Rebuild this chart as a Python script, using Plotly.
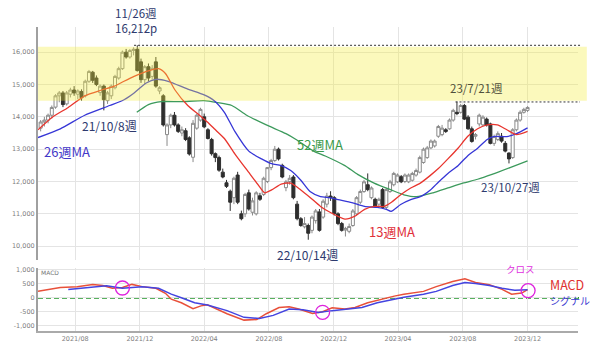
import pandas as pd
import plotly.graph_objects as go

# ---------------- data ----------------
week_dates = pd.date_range("2021-05-28", periods=132, freq="7D")

opens = [13650, 13840, 13900, 14050, 14300, 14650, 14740, 14400, 14700, 14830,
         14700, 14780, 14650, 15100, 15380, 15200, 14750, 14950, 14500, 14650,
         14900, 15200, 15490, 16000, 15850, 16050, 16090, 15700, 15150, 15550,
         15250, 15700, 14800, 14650, 13450, 13750, 14050, 13750, 13500, 13570,
         13350, 12750, 13650, 13900, 14000, 13600, 13300, 12860, 12740, 12290,
         11960, 11700, 11500, 12200, 11000, 11000, 11650, 11050, 11000, 11560,
         11600, 12000, 12430, 12650, 13000, 12500, 11810, 12000, 12140, 11300,
         10850, 10600, 10640, 10490, 10790, 11060, 10900, 11300, 11550, 11500,
         11000, 10700, 10500, 10460, 10640, 11000, 11360, 11690, 11900, 11500,
         11450, 11300, 11750, 11200, 11690, 11900, 11990, 12150, 12000, 11990,
         12040, 12200, 12290, 12590, 12740, 13040, 13100, 13400, 13450, 13600,
         13630, 13900, 14140, 14140, 14350, 13990, 13630, 13400, 13780, 13750,
         13930, 13780, 13180, 13300, 13400, 13180, 12880, 12740, 13600, 13900,
         14140, 14200]
highs = [13900, 14000, 14100, 14350, 14700, 14800, 14800, 14800, 14900, 14950,
         14850, 14850, 15150, 15450, 15420, 15280, 15000, 15000, 14800, 15000,
         15300, 15550, 16050, 16100, 16100, 16150, 16212, 15800, 15600, 15650,
         15600, 15850, 14950, 14700, 13800, 14100, 14150, 13800, 13700, 13650,
         13400, 13900, 14100, 14280, 14100, 13650, 13350, 12900, 12800, 12400,
         12050, 11750, 12150, 12300, 11100, 11650, 11750, 11500, 11700, 11650,
         12150, 12450, 12700, 13100, 13050, 12550, 12050, 12200, 12200, 11400,
         10900, 10900, 10700, 10950, 11150, 11150, 11450, 11650, 11700, 11550,
         11050, 10750, 10600, 10700, 11150, 11550, 11750, 12050, 12250, 11850,
         11500, 11500, 11800, 11800, 12050, 12300, 12250, 12200, 12250, 12250,
         12300, 12400, 12800, 13050, 13100, 13300, 13300, 13750, 13750, 13650,
         13950, 14250, 14470, 14400, 14400, 14050, 13700, 13500, 14100, 14050,
         13980, 13820, 13450, 13550, 13500, 13250, 12900, 13650, 13950, 14200,
         14280, 14330]
lows = [13550, 13700, 13800, 13950, 14250, 14450, 14300, 14350, 14600, 14650,
        14550, 14500, 14600, 15050, 15050, 14950, 14650, 14200, 14400, 14550,
        14850, 15150, 15450, 15800, 15800, 15900, 15400, 15050, 15000, 15100,
        15150, 14900, 14700, 13700, 13100, 13650, 13700, 13500, 13400, 13250,
        12800, 12600, 13600, 13850, 13650, 13300, 12800, 12600, 12300, 12100,
        11800, 11090, 11300, 11300, 10800, 10900, 11100, 10950, 10950, 11400,
        11550, 11950, 12350, 12600, 12650, 12100, 11700, 11900, 11450, 10800,
        10600, 10550, 10200, 10400, 10700, 10450, 10850, 11200, 11400, 10950,
        10650, 10450, 10300, 10400, 10600, 10950, 11300, 11650, 11700, 11450,
        11200, 11200, 11150, 11150, 11650, 11850, 11950, 11950, 11950, 11950,
        12000, 12150, 12250, 12550, 12700, 13000, 13050, 13350, 13400, 13500,
        13600, 13850, 14050, 14100, 13900, 13600, 13200, 13300, 13700, 13700,
        13700, 13150, 13100, 13250, 13200, 12900, 12560, 12700, 13550, 13850,
        14100, 14150]
closes = [13840, 13900, 14050, 14290, 14650, 14740, 14380, 14740, 14830, 14740,
          14800, 14590, 15100, 15400, 15130, 15000, 14950, 14530, 14740, 14950,
          15250, 15490, 16000, 15850, 16050, 16090, 15430, 15150, 15550, 15200,
          15500, 14950, 14900, 13750, 13750, 14050, 13750, 13550, 13600, 13300,
          12850, 13800, 14050, 14230, 13690, 13330, 12860, 12740, 12350, 12140,
          11850, 11360, 12100, 11360, 10850, 11600, 11150, 11400, 11650, 11450,
          12100, 12430, 12650, 13000, 12700, 12140, 11990, 12100, 11500, 10850,
          10640, 10700, 10400, 10900, 11090, 10490, 11390, 11550, 11500, 11000,
          10700, 10490, 10550, 10610, 11090, 11500, 11690, 11990, 11750, 11800,
          11240, 11450, 11200, 11750, 11990, 12250, 12200, 11990, 12200, 12200,
          12250, 12340, 12740, 13000, 13040, 13250, 13250, 13700, 13650, 13550,
          13900, 14200, 14100, 14350, 13930, 13630, 13240, 13450, 14050, 13990,
          13750, 13180, 13390, 13480, 13250, 12940, 12700, 13600, 13900, 14140,
          14230, 14290]

ma13_dates = ["2021-05-23", "2021-06-19", "2021-07-19", "2021-08-19", "2021-09-20",
              "2021-10-14", "2021-11-01", "2021-11-20", "2021-12-12", "2022-01-05",
              "2022-01-18", "2022-02-05", "2022-03-01", "2022-03-23", "2022-04-07",
              "2022-04-20", "2022-05-09", "2022-05-29", "2022-06-24", "2022-07-12",
              "2022-07-24", "2022-08-06", "2022-08-24", "2022-09-11", "2022-09-30",
              "2022-10-18", "2022-11-06", "2022-11-24", "2022-12-22", "2023-01-10",
              "2023-01-28", "2023-02-16", "2023-03-06", "2023-03-19", "2023-04-06",
              "2023-04-25", "2023-05-13", "2023-06-01", "2023-06-16", "2023-07-04",
              "2023-07-23", "2023-08-10", "2023-08-29", "2023-09-16", "2023-10-05",
              "2023-10-23", "2023-11-10", "2023-12-01"]
ma13_values = [13600, 13990, 14290, 14650, 14830, 14950, 15100, 15250, 15400, 15490,
               15340, 14830, 14350, 14050, 13840, 13630, 13330, 12850, 12280, 11890,
               11650, 11740, 11920, 11950, 11740, 11500, 11230, 11050, 10840, 10930,
               11140, 11230, 11230, 11350, 11590, 11800, 11950, 12190, 12400, 12700,
               13030, 13390, 13630, 13750, 13750, 13600, 13450, 13550]

ma26_dates = ["2021-05-23", "2021-07-04", "2021-08-19", "2021-10-05", "2021-11-01",
              "2021-11-20", "2021-12-12", "2021-12-31", "2022-01-23", "2022-03-01",
              "2022-04-01", "2022-04-20", "2022-05-09", "2022-05-29", "2022-06-24",
              "2022-07-18", "2022-08-06", "2022-08-24", "2022-09-11", "2022-09-30",
              "2022-10-18", "2022-11-06", "2022-11-24", "2022-12-09", "2023-01-04",
              "2023-01-28", "2023-02-21", "2023-03-10", "2023-03-19", "2023-04-06",
              "2023-04-25", "2023-05-13", "2023-06-01", "2023-06-16", "2023-07-04",
              "2023-07-23", "2023-08-10", "2023-08-29", "2023-09-16", "2023-09-28",
              "2023-10-23", "2023-11-10", "2023-12-01"]
ma26_values = [13360, 13630, 14050, 14350, 14530, 14740, 15040, 15160, 15100, 14860,
               14680, 14500, 14140, 13540, 12940, 12700, 12550, 12490, 12340, 12040,
               11680, 11530, 11500, 11440, 11350, 11230, 11200, 11140, 11080, 11290,
               11440, 11530, 11740, 11980, 12250, 12490, 12790, 13030, 13300, 13390,
               13390, 13480, 13660]

ma52_dates = ["2021-11-25", "2021-12-17", "2022-01-10", "2022-02-16", "2022-04-01",
              "2022-04-26", "2022-05-23", "2022-06-20", "2022-07-27", "2022-09-02",
              "2022-09-21", "2022-10-24", "2022-11-15", "2022-12-22", "2023-01-15",
              "2023-02-15", "2023-03-19", "2023-04-12", "2023-05-06", "2023-06-06",
              "2023-07-04", "2023-08-01", "2023-08-29", "2023-09-25", "2023-10-29",
              "2023-12-01"]
ma52_values = [14140, 14380, 14470, 14470, 14500, 14440, 14350, 14050, 13750, 13480,
               13300, 12940, 12790, 12490, 12220, 11950, 11740, 11590, 11530, 11650,
               11800, 11950, 12070, 12220, 12430, 12640]

macd_dates = ["2021-05-23", "2021-06-16", "2021-07-04", "2021-08-05", "2021-09-03",
              "2021-09-22", "2021-10-10", "2021-10-29", "2021-11-16", "2021-12-05",
              "2021-12-31", "2022-01-18", "2022-01-29", "2022-02-17", "2022-03-11",
              "2022-03-26", "2022-04-07", "2022-05-14", "2022-06-15", "2022-07-09",
              "2022-07-27", "2022-08-20", "2022-09-08", "2022-09-26", "2022-10-22",
              "2022-11-10", "2022-11-28", "2022-12-22", "2023-01-10", "2023-02-03",
              "2023-03-01", "2023-03-25", "2023-04-12", "2023-05-19", "2023-06-12",
              "2023-07-13", "2023-08-05", "2023-08-25", "2023-09-20", "2023-10-14",
              "2023-11-01", "2023-11-20", "2023-12-01"]
macd_values = [230, 300, 370, 400, 480, 440, 340, 370, 480, 400,
               340, 160, -50, -180, -390, -290, -250, -570, -800, -780,
               -570, -350, -320, -400, -560, -500, -360, -400, -350, -180,
               -50, 60, 130, 230, 400, 580, 680, 550, 470, 300,
               130, 170, 290]

signal_dates = ["2021-07-19", "2021-09-03", "2021-09-29", "2021-10-29", "2021-12-05",
                "2022-01-05", "2022-01-29", "2022-02-17", "2022-03-14", "2022-04-07",
                "2022-05-14", "2022-06-15", "2022-07-14", "2022-08-09", "2022-09-08",
                "2022-10-04", "2022-11-02", "2022-11-28", "2022-12-28", "2023-01-23",
                "2023-02-21", "2023-03-25", "2023-04-12", "2023-05-19", "2023-06-12",
                "2023-07-13", "2023-08-05", "2023-08-25", "2023-09-20", "2023-10-14",
                "2023-11-07", "2023-12-01"]
signal_values = [300, 400, 430, 340, 400, 340, 130, 0, -180, -260,
                 -460, -700, -740, -630, -400, -430, -530, -460, -400, -350,
                 -180, -50, 20, 130, 230, 440, 550, 510, 440, 340,
                 270, 290]

cross_dates = ["2021-10-29", "2022-11-10", "2023-12-02"]
cross_values = [350, -520, 257]

main_ticks = [10000, 11000, 12000, 13000, 14000, 15000, 16000]
macd_ticks = [-1000, -500, 0, 500, 1000]
macd_tick_text = ["-1,000", "-500", "0", "500", "1,000"]

# ---------------- figure ----------------
W, H = 600, 355
ML, MR, MT, MB = 27, 22, 27, 14
PW, PH = W - ML - MR, H - MT - MB


def px(x):
    return (x - ML) / PW


def py(y):
    return (H - MB - y) / PH


fig = go.Figure()

fig.add_trace(go.Candlestick(
    x=week_dates, open=opens, high=highs, low=lows, close=closes,
    increasing=dict(fillcolor="#ffffff", line=dict(color="#8a8a8a", width=1)),
    decreasing=dict(fillcolor="#2e2e2e", line=dict(color="#2e2e2e", width=1)),
    whiskerwidth=0, xaxis="x", yaxis="y", hoverinfo="skip"))

line_kw = dict(mode="lines", xaxis="x", yaxis="y", hoverinfo="skip")
fig.add_trace(go.Scatter(x=ma52_dates, y=ma52_values,
                         line=dict(color="#3c9a5c", width=1.3, shape="spline", smoothing=0.6), **line_kw))
fig.add_trace(go.Scatter(x=ma26_dates, y=ma26_values,
                         line=dict(color="#3636d6", width=1.3, shape="spline", smoothing=0.6), **line_kw))
fig.add_trace(go.Scatter(x=ma13_dates, y=ma13_values,
                         line=dict(color="#e8352e", width=1.3, shape="spline", smoothing=0.6), **line_kw))

fig.add_trace(go.Scatter(x=macd_dates, y=macd_values, mode="lines", xaxis="x2", yaxis="y2",
                         line=dict(color="#e8503a", width=1.5), hoverinfo="skip"))
fig.add_trace(go.Scatter(x=signal_dates, y=signal_values, mode="lines", xaxis="x2", yaxis="y2",
                         line=dict(color="#4444e0", width=1.5), hoverinfo="skip"))
fig.add_trace(go.Scatter(x=cross_dates, y=cross_values, mode="markers", xaxis="x2", yaxis="y2",
                         marker=dict(symbol="circle-open", size=14, color="#dd22dd",
                                     line=dict(width=1.3, color="#dd22dd")), hoverinfo="skip"))

x_range = ["2021-05-23", "2024-03-05"]
grid = "#e4e4e4"
tick_font = dict(family="DejaVu Sans", size=6.5, color="#808080")

fig.update_layout(
    width=W, height=H, margin=dict(l=ML, r=MR, t=MT, b=MB),
    paper_bgcolor="white", plot_bgcolor="white", showlegend=False,
    boxgap=0.1, boxgroupgap=0.1,
    xaxis=dict(domain=[0, 1], anchor="y", range=x_range, type="date",
               tick0="2021-08-01", dtick="M4", showticklabels=False,
               showgrid=True, gridcolor=grid, zeroline=False, showline=False,
               rangeslider=dict(visible=False)),
    xaxis2=dict(domain=[0, 1], anchor="y2", matches="x", type="date", range=x_range,
                tick0="2021-08-01", dtick="M4", tickformat="%Y/%m", tickfont=tick_font,
                showgrid=True, gridcolor=grid, showline=True, linecolor="#aaaaaa",
                linewidth=2, ticks="", zeroline=False),
    yaxis=dict(domain=[py(268), 1], anchor="x", range=[9563, 16778],
               tickvals=main_ticks, tickformat=",", tickfont=tick_font,
               showgrid=True, gridcolor=grid, showline=True, linecolor="#a0a0a0",
               linewidth=2, zeroline=False, ticks=""),
    yaxis2=dict(domain=[0, py(276)], anchor="x2", range=[-1190, 1065],
                tickvals=macd_ticks, ticktext=macd_tick_text, tickfont=tick_font,
                showgrid=True, gridcolor=grid, showline=True, linecolor="#a0a0a0",
                linewidth=2, zeroline=False, ticks=""),
)

shapes = [
    dict(type="rect", xref="paper", yref="y", x0=0, x1=px(587), y0=14500, y1=16170,
         fillcolor="rgba(243,237,60,0.34)", line=dict(width=0), layer="above"),
    dict(type="line", xref="paper", yref="y", x0=px(125), x1=px(582), y0=16212, y1=16212,
         line=dict(color="#333333", width=1, dash="2px,2px"), layer="above"),
    dict(type="line", xref="paper", yref="y", x0=px(453), x1=px(580), y0=14460, y1=14460,
         line=dict(color="#333333", width=1, dash="2px,2px"), layer="above"),
    dict(type="line", xref="paper", yref="y2", x0=0, x1=px(582), y0=0, y1=0,
         line=dict(color="#22962a", width=1.8, dash="5px,3px"), layer="below"),
]
fig.update_layout(shapes=shapes)

jp = "Noto Sans CJK JP"
navy = "#2e3a6e"


def label(text, x, y, color, size, xanchor="center"):
    fig.add_annotation(text=text, x=px(x), y=py(y), xref="paper", yref="paper",
                       xanchor=xanchor, yanchor="middle", showarrow=False,
                       borderpad=0, font=dict(family=jp, size=size, color=color))


label("11/26週", 127, 13, navy, 11.5)
label("16,212p", 127, 28, navy, 11.5)
label("21/10/8週", 100, 129, navy, 12)
label("26週MA", 57, 156, "#4338c8", 13)
label("52週MA", 315, 148, "#3a9a4a", 13)
label("23/7/21週", 474, 90, "#4f4f3a", 11.5)
label("23/10/27週", 509, 192, navy, 11.5)
label("13週MA", 388, 238, "#e0303a", 13)
label("22/10/14週", 302, 262, navy, 12)
label("クロス", 519, 277, "#e030e0", 9.5)
label("MACD", 567, 293, "#e03030", 12.5)
label("シグナル", 570, 310, "#3b3bd0", 10)
fig.add_annotation(text="MACD", x=px(28), y=py(281), xref="paper", yref="paper",
                   xanchor="left", yanchor="middle", showarrow=False,
                   font=dict(family="DejaVu Sans", size=6, color="#777777"))

fig.write_html("out.html")
